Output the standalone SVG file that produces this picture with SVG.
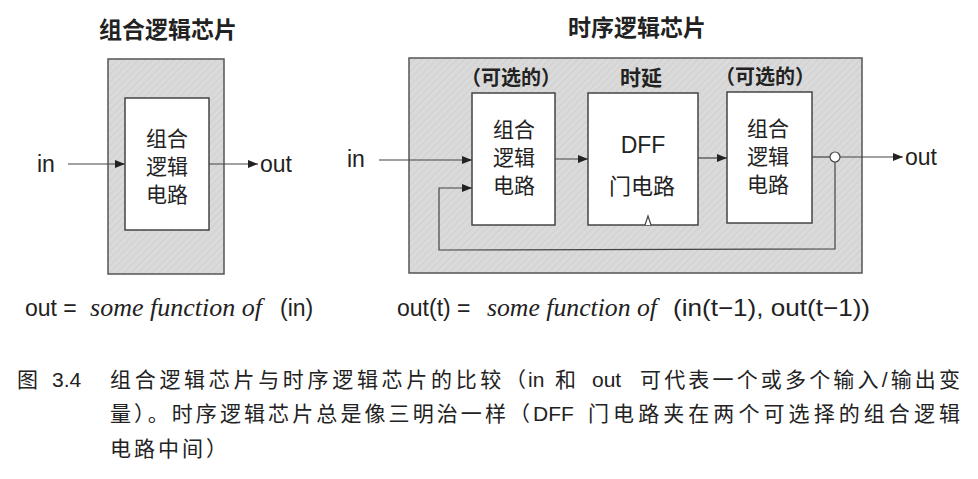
<svg xmlns="http://www.w3.org/2000/svg" width="978" height="479" viewBox="0 0 978 479">
<defs>
<pattern id="hatch" width="5" height="5" patternUnits="userSpaceOnUse" patternTransform="rotate(45)">
<rect width="5" height="5" fill="#dadada"/>
<line x1="0" y1="0" x2="0" y2="5" stroke="#cdcdcd" stroke-width="1.5"/>
</pattern>
<marker id="arr" viewBox="0 0 10 10" refX="10" refY="5" markerWidth="10" markerHeight="10" markerUnits="userSpaceOnUse" orient="auto">
<path d="M0,1 L10,5 L0,9 Z" fill="#222"/>
</marker>
</defs>
<style>
.chip{fill:url(#hatch);stroke:#555;stroke-width:1.5}
.box{fill:#fff;stroke:#444;stroke-width:1.5}
.t{font-family:"Liberation Sans","Noto Sans CJK SC",sans-serif;fill:#222}
.c{font-family:"Noto Sans CJK SC","Liberation Sans",sans-serif;fill:#222}
.b{font-weight:bold}
.i{font-family:"Liberation Serif",serif;font-style:italic;fill:#222}
.w{stroke:#444;stroke-width:1.2;fill:none}
.cap{font-family:"Liberation Sans","Noto Sans CJK SC",sans-serif;fill:#222;font-size:21px}
</style>
<rect width="978" height="479" fill="#fff"/>

<g id="combChip">
<text class="c b" x="168" y="38" font-size="23" text-anchor="middle">组合逻辑芯片</text>
<rect class="chip" x="108" y="59" width="116" height="215"/>
</g>
<g id="combCircuit">
<rect class="box" x="125" y="98" width="84" height="132"/>
<text class="c" x="167" y="146" font-size="21" text-anchor="middle">组合</text>
<text class="c" x="167" y="174" font-size="21" text-anchor="middle">逻辑</text>
<text class="c" x="167" y="202" font-size="21" text-anchor="middle">电路</text>
</g>
<g id="leftIO">
<text class="t" x="37" y="172" font-size="23">in</text>
<text class="t" x="260" y="172" font-size="23">out</text>
</g>
<g id="leftFormula">
<text class="t" x="25" y="316" font-size="23">out =</text>
<text class="i" x="90" y="316" font-size="26" textLength="172" lengthAdjust="spacingAndGlyphs">some function of</text>
<text class="t" x="280" y="316" font-size="23">(in)</text>
</g>

<g id="seqChip">
<text class="c b" x="637" y="36" font-size="23" text-anchor="middle">时序逻辑芯片</text>
<rect class="chip" x="409" y="58" width="453" height="215"/>
</g>
<g id="comb1">
<text class="c b" x="511" y="85" font-size="20" text-anchor="middle">（可选的）</text>
<rect class="box" x="472" y="93" width="83" height="132"/>
<text class="c" x="514" y="137" font-size="21" text-anchor="middle">组合</text>
<text class="c" x="514" y="165" font-size="21" text-anchor="middle">逻辑</text>
<text class="c" x="514" y="193" font-size="21" text-anchor="middle">电路</text>
</g>
<g id="dff">
<text class="c b" x="641" y="85" font-size="21" text-anchor="middle">时延</text>
<rect class="box" x="588" y="93" width="110" height="132"/>
<text class="t" x="643" y="153" font-size="23" text-anchor="middle">DFF</text>
<text class="c" x="642" y="194" font-size="22" text-anchor="middle">门电路</text>
<path d="M645,225 L648,216 L651,225" fill="#fff" stroke="#444" stroke-width="1.2"/>
</g>
<g id="comb2">
<text class="c b" x="765" y="84" font-size="20" text-anchor="middle">（可选的）</text>
<rect class="box" x="727" y="92" width="85" height="131"/>
<text class="c" x="768" y="136" font-size="21" text-anchor="middle">组合</text>
<text class="c" x="768" y="164" font-size="21" text-anchor="middle">逻辑</text>
<text class="c" x="768" y="192" font-size="21" text-anchor="middle">电路</text>
</g>
<g id="rightIO">
<text class="t" x="347" y="167" font-size="23">in</text>
<text class="t" x="905" y="165" font-size="23">out</text>
</g>
<g id="rightFormula">
<text class="t" x="397" y="316" font-size="23">out(t) =</text>
<text class="i" x="487" y="316" font-size="26" textLength="170" lengthAdjust="spacingAndGlyphs">some function of</text>
<text class="t" x="673" y="316" font-size="24" textLength="197" lengthAdjust="spacingAndGlyphs">(in(t−1), out(t−1))</text>
</g>

<g id="connectors">
<line class="w" x1="68" y1="164" x2="125" y2="164" marker-end="url(#arr)"/>
<line class="w" x1="209" y1="164" x2="258" y2="164" marker-end="url(#arr)"/>
<line class="w" x1="379" y1="160" x2="472" y2="160" marker-end="url(#arr)"/>
<line class="w" x1="555" y1="159" x2="588" y2="159" marker-end="url(#arr)"/>
<line class="w" x1="698" y1="158" x2="727" y2="158" marker-end="url(#arr)"/>
<line class="w" x1="812" y1="157" x2="830" y2="157"/>
<line class="w" x1="840" y1="157" x2="903" y2="157" marker-end="url(#arr)"/>
<circle cx="835" cy="157" r="5" fill="#fff" stroke="#444" stroke-width="1.2"/>
<polyline class="w" points="835,162 835,249 439,250 439,188 472,188" marker-end="url(#arr)"/>
</g>

<g id="caption">
<text class="cap" x="17" y="387">图</text>
<text class="cap" x="52" y="387">3.4</text>
<text class="cap" x="110" y="387" textLength="416" lengthAdjust="spacing">组合逻辑芯片与时序逻辑芯片的比较（</text>
<text class="cap" x="528" y="387">in</text>
<text class="cap" x="555" y="387">和</text>
<text class="cap" x="592" y="387">out</text>
<text class="cap" x="640" y="387" textLength="320" lengthAdjust="spacing">可代表一个或多个输入/输出变</text>
<text class="cap" x="110" y="421" textLength="420" lengthAdjust="spacing">量）。时序逻辑芯片总是像三明治一样（</text>
<text class="cap" x="533" y="421">DFF</text>
<text class="cap" x="588" y="421" textLength="372" lengthAdjust="spacing">门电路夹在两个可选择的组合逻辑</text>
<text class="cap" x="110" y="456" letter-spacing="3">电路中间）</text>
</g>
</svg>
